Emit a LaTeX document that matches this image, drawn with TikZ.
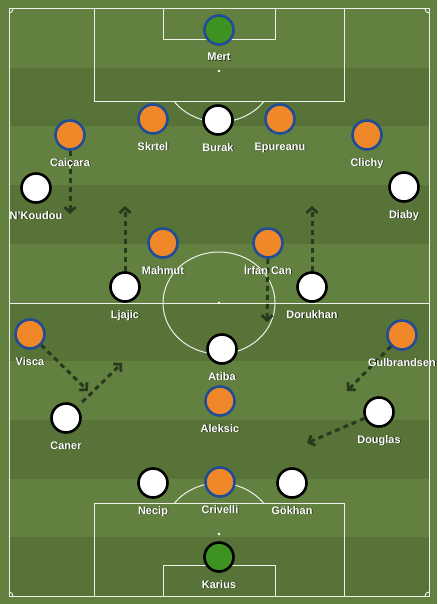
\documentclass[tikz,border=0pt]{standalone}
\usepackage{fontspec}
\setmainfont{Liberation Sans}
\usetikzlibrary{calc, arrows.meta}
\definecolor{pitchlight}{RGB}{98,129,65}
\definecolor{pitchdark}{RGB}{87,115,56}
\definecolor{kitorange}{RGB}{240,136,42}
\definecolor{kitblue}{RGB}{33,76,150}
\definecolor{keepergreen}{RGB}{62,146,34}
\definecolor{runcolor}{RGB}{40,58,28}

\begin{document}
\begin{tikzpicture}[x=1pt,y=-1pt,
	pitchline/.style={draw=white!88!pitchlight, line width=1pt},
	orangeplayer/.style={circle, fill=kitorange, draw=kitblue, line width=2.6pt, minimum size=29pt, inner sep=0pt},
	whiteplayer/.style={circle, fill=white, draw=black, line width=2.6pt, minimum size=29pt, inner sep=0pt},
	keeperblue/.style={circle, fill=keepergreen, draw=kitblue, line width=2.6pt, minimum size=29pt, inner sep=0pt},
	keeperblack/.style={circle, fill=keepergreen, draw=black, line width=2.6pt, minimum size=29pt, inner sep=0pt},
	namelabel/.style={anchor=base, inner sep=0pt, text=white},
	nameshadow/.style={anchor=base, inner sep=0pt, text=black, opacity=0.65},
	run/.style={draw=runcolor, line width=3pt, dash pattern=on 5pt off 4pt, -{Straight Barb[length=5pt,width=11pt,line width=2.8pt]}}
	]
			\newcommand{\myfontnames}[1]{
				\fontsize{11}{12}\selectfont\bfseries{#1}
			}
			\useasboundingbox (0,0) rectangle (437,604);
			%Grass and stripes
			\fill[pitchlight] (0,0) rectangle (437,604);
			\foreach \i in {1,3,...,9} {
				\fill[pitchdark] (9,{9+58.7*\i}) rectangle (429,{9+58.7*(\i+1)});
			}
			%Outer lines and halfway line
			\draw[pitchline] (9,9) rectangle (429,596);
			\draw[pitchline] (9,303) -- (429,303);
			\coordinate (kickoff) at (219,303);
			\draw[pitchline] (kickoff) ellipse[x radius=56, y radius=51];
			\fill[white] (kickoff) circle[radius=1.3];
			%Corner arcs
			\draw[pitchline] (13,9) arc[start angle=0, end angle=90, radius=4];
			\draw[pitchline] (425,9) arc[start angle=180, end angle=90, radius=4];
			\draw[pitchline] (9,592) arc[start angle=270, end angle=360, radius=4];
			\draw[pitchline] (425,596) arc[start angle=180, end angle=270, radius=4];
			%Top penalty area
			\draw[pitchline] (94,9) -- (94,102) -- (344,102) -- (344,9);
			\draw[pitchline] (163,9) -- (163,40) -- (275,40) -- (275,9);
			\coordinate (spotTop) at (219,71);
			\fill[white] (spotTop) circle[radius=1.3];
			\draw[pitchline] ($(spotTop)+(44.5,31)$) arc[start angle=37.4, end angle=142.6, x radius=56, y radius=51];
			%Bottom penalty area
			\draw[pitchline] (94,596) -- (94,503) -- (344,503) -- (344,596);
			\draw[pitchline] (163,596) -- (163,565) -- (275,565) -- (275,596);
			\coordinate (spotBottom) at (219,534);
			\fill[white] (spotBottom) circle[radius=1.3];
			\draw[pitchline] ($(spotBottom)+(-44.5,-31)$) arc[start angle=217.4, end angle=322.6, x radius=56, y radius=51];
			%Players, top team
			\node[keeperblue] (mert) at (219,30) {};
			\node[orangeplayer] (skrtel) at (153,119) {};
			\node[whiteplayer] (burak) at (218,120) {};
			\node[orangeplayer] (epureanu) at (280,119) {};
			\node[orangeplayer] (caicara) at (70,135) {};
			\node[orangeplayer] (clichy) at (367,135) {};
			\node[whiteplayer] (nkoudou) at (36,188) {};
			\node[whiteplayer] (diaby) at (404,187) {};
			\node[orangeplayer] (mahmut) at (163,243) {};
			\node[orangeplayer] (irfan) at (268,243) {};
			\node[whiteplayer] (ljajic) at (125,287) {};
			\node[whiteplayer] (dorukhan) at (312,287) {};
			\node[orangeplayer] (visca) at (30,334) {};
			\node[orangeplayer] (gulbrandsen) at (402,335) {};
			\node[whiteplayer] (atiba) at (222,349) {};
			\node[orangeplayer] (aleksic) at (220,401) {};
			\node[whiteplayer] (caner) at (66,418) {};
			\node[whiteplayer] (douglas) at (379,412) {};
			\node[whiteplayer] (necip) at (153,483) {};
			\node[orangeplayer] (crivelli) at (220,482) {};
			\node[whiteplayer] (gokhan) at (292,483) {};
			\node[keeperblack] (karius) at (219,557) {};
			%Runs
			\coordinate (caicaraRun) at (70,214);
			\coordinate (ljajicRun) at (125,206);
			\coordinate (dorukhanRun) at (312,206);
			\coordinate (irfanRun) at (267,322);
			\coordinate (viscaRun) at (88,391);
			\coordinate (canerRun) at (122,363);
			\coordinate (gulbrandsenRun) at (347,391);
			\coordinate (douglasRun) at (307,443);
			\draw[run] (caicara) -- (caicaraRun);
			\draw[run] (ljajic) -- (ljajicRun);
			\draw[run] (dorukhan) -- (dorukhanRun);
			\draw[run] (irfan.south) -- (irfanRun);
			\draw[run] (visca) -- (viscaRun);
			\draw[run, shorten <=7pt] (caner) -- (canerRun);
			\draw[run] (gulbrandsen) -- (gulbrandsenRun);
			\draw[run] (douglas) -- (douglasRun);
			%Names
			\foreach \p/\txt in {mert/Mert, skrtel/Skrtel, burak/Burak, epureanu/Epureanu, caicara/Caiçara, clichy/Clichy, nkoudou/N'Koudou, diaby/Diaby, mahmut/Mahmut, irfan/İrfan Can, ljajic/Ljajic, dorukhan/Dorukhan, visca/Visca, gulbrandsen/Gulbrandsen, atiba/Atiba, aleksic/Aleksic, caner/Caner, douglas/Douglas, necip/Necip, crivelli/Crivelli, gokhan/Gökhan, karius/Karius} {
				\node[nameshadow] (\p-shadow) at ($(\p)+(0.8,31.8)$) {\myfontnames{\txt}};
				\node[namelabel] (\p-name) at ($(\p)+(0,31)$) {\myfontnames{\txt}};
			}
\end{tikzpicture}
\end{document}
